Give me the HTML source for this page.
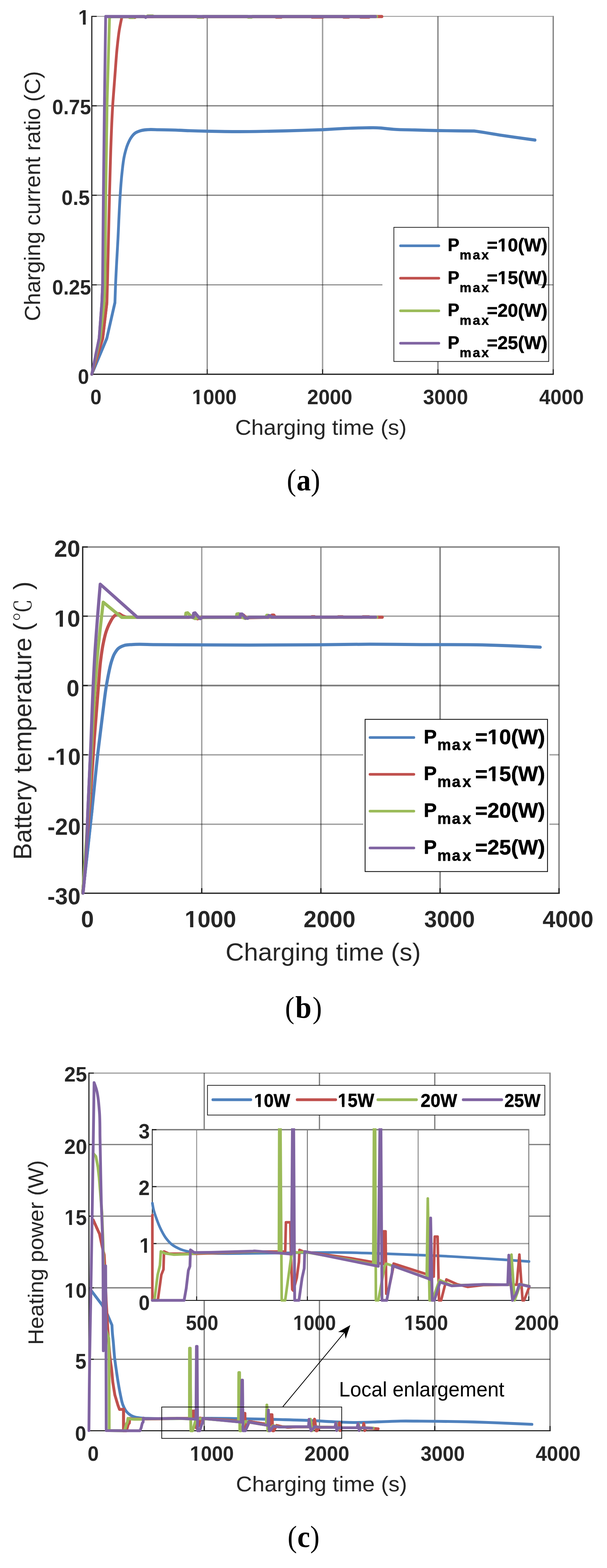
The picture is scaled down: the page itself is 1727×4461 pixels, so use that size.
<!DOCTYPE html>
<html lang="en">
<head>
<meta charset="utf-8">
<title>Charging current ratio, battery temperature and heating power versus charging time</title>
<style>
html,body{margin:0;padding:0;background:#fff}
svg{display:block}
text{white-space:pre}
</style>
</head>
<body>
<svg width="1727" height="4461" viewBox="0 0 1727 4461">
<rect width="1727" height="4461" fill="#fff"/>
<defs><clipPath id="k1"><path clip-rule="evenodd" d="M-60-130H2000V70H-60ZM4-14H23.3V3H4ZM37.1-14H55V3H37.1Z"/></clipPath><clipPath id="k2"><path clip-rule="evenodd" d="M-60-130H2000V70H-60ZM37.3-14H56.6V3H37.3ZM70.4-14H88.3V3H70.4Z"/></clipPath><clipPath id="k3"><path clip-rule="evenodd" d="M-400-130H2000V70H-400ZM62.4-14H81.7V3H62.4ZM95.5-14H113.4V3H95.5Z"/></clipPath></defs>
<g id="chart-a">
<line x1="589.5" y1="46.6" x2="589.5" y2="1064.5" stroke="#000" stroke-width="3.1" stroke-opacity="0.5"/>
<line x1="917.8" y1="46.6" x2="917.8" y2="1064.5" stroke="#000" stroke-width="4" stroke-opacity="0.38"/>
<line x1="1246" y1="46.6" x2="1246" y2="1064.5" stroke="#000" stroke-width="3.6" stroke-opacity="0.5"/>
<line x1="1574" y1="45.3" x2="1574" y2="1064.5" stroke="#000" stroke-width="3.6" stroke-opacity="0.5"/>
<line x1="261.2" y1="301" x2="1574" y2="301" stroke="#000" stroke-width="3.6" stroke-opacity="0.5"/>
<line x1="261.2" y1="555.5" x2="1574" y2="555.5" stroke="#000" stroke-width="3.4" stroke-opacity="0.5"/>
<line x1="261.2" y1="810.4" x2="1088" y2="810.4" stroke="#000" stroke-width="2.8" stroke-opacity="0.5"/>
<line x1="261.2" y1="46.6" x2="1572" y2="46.6" stroke="#000" stroke-width="2.7" stroke-opacity="0.36"/>
<g transform="scale(1 1.12)">
<path d="M261.2 950.4L303.8 859.6L327 768.7C327 768.7 328.1 738.4 328.8 723.2C330.5 684.5 333.3 645.8 335.6 607.1C337.8 568.5 339.2 529.7 342.3 491.1C343.6 474.6 344.8 458 346.8 441.6C348.8 425.4 350.2 409 354.4 393.3C356.8 384.2 359.4 375 363.4 366.4C366 360.8 368.7 355.2 372.4 350.3C375.8 345.8 379.7 341.3 384.4 338.2C388.9 335.2 394.3 333.5 399.5 332.1C406.3 330.1 413.5 329.8 420.6 329.3C430.6 328.6 440.7 329.4 450.7 329.6C467.1 329.8 483.6 330 500 330.5C513.3 330.9 526.7 331.6 540 332.1C556.3 332.6 572.7 333 589 333.3C619.5 333.9 650 334.4 680.5 334.4C710.6 334.4 740.7 333.9 770.8 333.3C800.9 332.8 830.9 331.9 861 331.1C880 330.6 899 330.2 918 329.5C939.1 328.6 960.3 327.1 981.4 326.2C1001.5 325.5 1021.5 324.8 1041.6 324.6C1051.7 324.6 1061.9 324.3 1072 324.6C1076 324.8 1084 325.2 1084 325.2C1084 325.2 1108 327.6 1120 328.4C1140.1 329.7 1160.3 329.6 1180.5 330.1C1202.2 330.7 1223.8 331.3 1245.5 331.7C1263.7 332 1281.8 332.2 1300 332.4C1316.3 332.6 1349 332.8 1349 332.8C1349 332.8 1357 333.7 1361 334.2C1381.1 336.7 1401 340.1 1421 342.9C1454.8 347.5 1522.4 355.8 1522.4 355.8" fill="none" stroke="#4f81bd" stroke-width="7.9" stroke-linejoin="round" stroke-linecap="round" />
<path d="M261.2 950.4L292.3 859.6L304.2 768.7C304.2 768.7 305.1 738.4 305.6 723.2C307.9 645.8 309 568.4 311.6 491.1C314.2 413.7 315.5 336.2 321.3 258.9C323.1 235.3 325.2 211.7 327.3 188C329.3 165.6 330.7 143.1 333.3 120.8C335.1 105.6 336.8 90.3 339.6 75.2C341.7 64.2 346.9 42.4 346.9 42.4L366 42.7L369 44.2L384 44.2L387 42.4L560 42.4L563 43.7L578 43.7L581 42.4L783 42.4L786 43.7L800 43.7L803 42.4L885 42.4L888 43.7L918 43.7L921 42.4L975 42.4L978 43.7L992 43.7L995 42.4L1023 42.4L1026 43.6L1050 43.6L1053 42L1086.8 42" fill="none" stroke="#c0504d" stroke-width="7.9" stroke-linejoin="round" stroke-linecap="round" />
<path d="M261.2 950.4L285 859.6L296.3 768.7L298.7 723.2L301 491.1L304.7 258.9L311.6 45.5L315 42.4L366 42.4L369 44.5L380 44.5L383 42.4L418 42L420 40.6L435 40.6L437 42L560 42L562 43.7L575 43.7L577 42L704 42L706 43.7L716 43.7L718 42L1072 42" fill="none" stroke="#9bbb59" stroke-width="7.9" stroke-linejoin="round" stroke-linecap="round" />
<path d="M261.2 950.4L282 859.6L289.7 768.7L291.8 723.2L294.2 491.1L297.2 258.9L300.6 42L411 42L414.5 44.2L418 42L1068.7 42" fill="none" stroke="#8064a2" stroke-width="7.9" stroke-linejoin="round" stroke-linecap="round" />
</g>
<line x1="261.2" y1="45.3" x2="261.2" y2="1066.1" stroke="#1f1f1f" stroke-width="3.2" />
<line x1="261.2" y1="1064.8" x2="1575.8" y2="1064.8" stroke="#1f1f1f" stroke-width="3.6" />
<line x1="261.2" y1="46.6" x2="275.2" y2="46.6" stroke="#1f1f1f" stroke-width="3" />
<line x1="261.2" y1="301" x2="275.2" y2="301" stroke="#1f1f1f" stroke-width="3" />
<line x1="261.2" y1="555.5" x2="275.2" y2="555.5" stroke="#1f1f1f" stroke-width="3" />
<line x1="261.2" y1="810.4" x2="275.2" y2="810.4" stroke="#1f1f1f" stroke-width="3" />
<line x1="589.5" y1="1064.5" x2="589.5" y2="1050.5" stroke="#1f1f1f" stroke-width="2.8" />
<line x1="917.8" y1="1064.5" x2="917.8" y2="1050.5" stroke="#1f1f1f" stroke-width="2.8" />
<line x1="1246" y1="1064.5" x2="1246" y2="1050.5" stroke="#1f1f1f" stroke-width="2.8" />
<line x1="1574" y1="1064.5" x2="1574" y2="1050.5" stroke="#1f1f1f" stroke-width="2.8" />
<g transform="scale(1 1.12)">
<path d="M261.2 950.4L303.8 859.6L327 768.7" fill="none" stroke="#4f81bd" stroke-width="7.9" stroke-linejoin="round" stroke-linecap="round" />
<path d="M261.2 950.4L292.3 859.6L304.2 768.7" fill="none" stroke="#c0504d" stroke-width="7.9" stroke-linejoin="round" stroke-linecap="round" />
<path d="M261.2 950.4L285 859.6L296.3 768.7" fill="none" stroke="#9bbb59" stroke-width="7.9" stroke-linejoin="round" stroke-linecap="round" />
<path d="M261.2 950.4L282 859.6L289.7 768.7L291.8 723.2" fill="none" stroke="#8064a2" stroke-width="7.9" stroke-linejoin="round" stroke-linecap="round" />
</g>
<rect x="1120.6" y="646.8" width="440.6" height="381.6" fill="#fff" stroke="#111" stroke-width="2" />
<line x1="1139.5" y1="699.2" x2="1248.5" y2="699.2" stroke="#4f81bd" stroke-width="7.5" stroke-linecap="round"/>
<text transform="matrix(0.5213 0 0 0.5230 1385.26 715.47)" font-family="'Liberation Sans', sans-serif" font-weight="bold" font-size="100" fill="#000" clip-path="url(#k3)" stroke="#000" stroke-width="1.72" stroke-linejoin="round"><tspan x="-214.0" y="-2.4" font-size="95.5">P</tspan><tspan x="-148.9 -77.1 -29.8" y="44.0" font-size="72.3">max</tspan><tspan x="0" y="0">=10(W)</tspan></text>
<line x1="1139.5" y1="791.5" x2="1248.5" y2="791.5" stroke="#c0504d" stroke-width="7.5" stroke-linecap="round"/>
<text transform="matrix(0.5213 0 0 0.5230 1385.26 807.77)" font-family="'Liberation Sans', sans-serif" font-weight="bold" font-size="100" fill="#000" clip-path="url(#k3)" stroke="#000" stroke-width="1.72" stroke-linejoin="round"><tspan x="-214.0" y="-2.4" font-size="95.5">P</tspan><tspan x="-148.9 -77.1 -29.8" y="44.0" font-size="72.3">max</tspan><tspan x="0" y="0">=15(W)</tspan></text>
<line x1="1139.5" y1="884.3" x2="1248.5" y2="884.3" stroke="#9bbb59" stroke-width="7.5" stroke-linecap="round"/>
<text transform="matrix(0.5213 0 0 0.5230 1385.26 900.57)" font-family="'Liberation Sans', sans-serif" font-weight="bold" font-size="100" fill="#000" stroke="#000" stroke-width="1.72" stroke-linejoin="round"><tspan x="-214.0" y="-2.4" font-size="95.5">P</tspan><tspan x="-148.9 -77.1 -29.8" y="44.0" font-size="72.3">max</tspan><tspan x="0" y="0">=20(W)</tspan></text>
<line x1="1139.5" y1="976.6" x2="1248.5" y2="976.6" stroke="#8064a2" stroke-width="7.5" stroke-linecap="round"/>
<text transform="matrix(0.5213 0 0 0.5230 1385.26 992.87)" font-family="'Liberation Sans', sans-serif" font-weight="bold" font-size="100" fill="#000" stroke="#000" stroke-width="1.72" stroke-linejoin="round"><tspan x="-214.0" y="-2.4" font-size="95.5">P</tspan><tspan x="-148.9 -77.1 -29.8" y="44.0" font-size="72.3">max</tspan><tspan x="0" y="0">=25(W)</tspan></text>
<line x1="1530" y1="810.4" x2="1574" y2="810.4" stroke="#000" stroke-width="2.8" stroke-opacity="0.5"/>
<text transform="matrix(0.5720 0 0 0.5971 222.62 69.90)" font-family="'Liberation Sans', sans-serif" font-weight="bold" font-size="100" fill="#262626" clip-path="url(#k1)">1</text>
<text transform="matrix(0.5686 0 0 0.5887 148.53 325.41)" font-family="'Liberation Sans', sans-serif" font-weight="bold" font-size="100" fill="#262626">0.75</text>
<text transform="matrix(0.5788 0 0 0.5873 175.08 583.21)" font-family="'Liberation Sans', sans-serif" font-weight="bold" font-size="100" fill="#262626">0.5</text>
<text transform="matrix(0.5686 0 0 0.5986 148.53 838.10)" font-family="'Liberation Sans', sans-serif" font-weight="bold" font-size="100" fill="#262626">0.25</text>
<text transform="matrix(0.5720 0 0 0.5873 221.38 1092.31)" font-family="'Liberation Sans', sans-serif" font-weight="bold" font-size="100" fill="#262626">0</text>
<text transform="matrix(0.5720 0 0 0.5930 256.93 1150.41)" font-family="'Liberation Sans', sans-serif" font-weight="bold" font-size="100" fill="#262626">0</text>
<text transform="matrix(0.5708 0 0 0.5930 546.19 1150.41)" font-family="'Liberation Sans', sans-serif" font-weight="bold" font-size="100" fill="#262626" clip-path="url(#k1)">1000</text>
<text transform="matrix(0.5767 0 0 0.5930 874.08 1150.41)" font-family="'Liberation Sans', sans-serif" font-weight="bold" font-size="100" fill="#262626">2000</text>
<text transform="matrix(0.5745 0 0 0.5930 1203.86 1150.41)" font-family="'Liberation Sans', sans-serif" font-weight="bold" font-size="100" fill="#262626">3000</text>
<text transform="matrix(0.5700 0 0 0.5915 1534.24 1150.01)" font-family="'Liberation Sans', sans-serif" font-weight="bold" font-size="100" fill="#262626">4000</text>
<text transform="matrix(0.6364 0 0 0.6182 668.92 1237.32)" font-family="'Liberation Sans', sans-serif" font-weight="normal" font-size="100" fill="#262626">Charging time (s)</text>
<text transform="matrix(0 -0.6275 0.6278 0 114.22 913.54)" font-family="'Liberation Sans', sans-serif" font-weight="normal" font-size="100" fill="#262626">Charging current ratio (C)</text>
<text transform="matrix(0.8000 0 0 0.8678 816.10 1394.58)" font-family="'Liberation Serif', serif" font-weight="normal" font-size="100" fill="#000"><tspan x="0" y="0">(</tspan><tspan x="34.6" y="0.3" font-size="101.2" font-weight="bold">a</tspan><tspan x="85.2" y="0.0" font-size="100.0">)</tspan></text>
</g>
<g id="chart-b">
<line x1="574" y1="1557.7" x2="574" y2="2541.3" stroke="#000" stroke-width="4" stroke-opacity="0.36"/>
<line x1="913" y1="1557.7" x2="913" y2="2541.3" stroke="#000" stroke-width="4.1" stroke-opacity="0.42"/>
<line x1="1252.1" y1="1557.7" x2="1252.1" y2="2541.3" stroke="#000" stroke-width="4.1" stroke-opacity="0.5"/>
<line x1="1590.5" y1="1554.2" x2="1590.5" y2="2541.3" stroke="#000" stroke-width="4" stroke-opacity="0.5"/>
<line x1="235.3" y1="1556.2" x2="1588.5" y2="1556.2" stroke="#000" stroke-width="4" stroke-opacity="0.5"/>
<line x1="235.3" y1="1753" x2="1590.5" y2="1753" stroke="#000" stroke-width="4" stroke-opacity="0.36"/>
<line x1="235.3" y1="1950.4" x2="1590.5" y2="1950.4" stroke="#000" stroke-width="4.6" stroke-opacity="0.5"/>
<line x1="235.3" y1="2147.4" x2="1033.5" y2="2147.4" stroke="#000" stroke-width="4" stroke-opacity="0.36"/>
<line x1="1563.2" y1="2147.4" x2="1590.5" y2="2147.4" stroke="#000" stroke-width="4" stroke-opacity="0.36"/>
<line x1="235.3" y1="2344.9" x2="1033.5" y2="2344.9" stroke="#000" stroke-width="4" stroke-opacity="0.36"/>
<line x1="1563.2" y1="2344.9" x2="1590.5" y2="2344.9" stroke="#000" stroke-width="4" stroke-opacity="0.36"/>
<path d="M235.6 2540.7C235.6 2540.7 253.6 2380.3 262.1 2300C267.8 2246.7 272.6 2193.3 278.7 2140C282.9 2103.5 287.5 2067 292.2 2030.5C295.6 2003.7 298.3 1976.8 302.8 1950.1C305.1 1936.7 307.4 1923.3 310.3 1910.1C312.5 1900 314.5 1889.8 317.8 1880C320 1873.4 322 1866.7 325.3 1860.7C328.6 1854.7 332.1 1848.5 337.4 1844.2C341.8 1840.7 347.1 1838.5 352.4 1836.7C360.1 1834.1 368.4 1834.4 376.5 1833.7C397.6 1831.8 418.8 1833.8 440 1833.9C466.7 1834.1 493.3 1834.4 520 1834.6C646.7 1835.5 773.3 1835.4 900 1834.4C950.9 1834 1001.7 1832.9 1052.6 1832.8C1101.7 1832.8 1150.9 1833.7 1200 1834C1257.5 1834.4 1315 1833.5 1372.5 1834.8C1398.3 1835.4 1424.2 1836.2 1450 1837.2C1479 1838.3 1537 1841.2 1537 1841.2" fill="none" stroke="#4f81bd" stroke-width="9" stroke-linejoin="round" stroke-linecap="round" />
<path d="M235.6 2540.7C235.6 2540.7 250.9 2353.6 257.6 2260C261.4 2206.7 264.6 2153.3 268.5 2100C272.2 2050 276 2000 280.2 1950C282.1 1926.7 283.3 1903.2 286.2 1880C288.3 1863.5 290.3 1847 293.7 1830.7C296.2 1818.5 298.6 1806.2 302.8 1794.5C305.7 1786.3 309.1 1778.1 313.3 1770.5C316.8 1764.2 319.7 1756.9 325.3 1752.4C328.9 1749.5 332.8 1746 337.4 1746C341.9 1746 345.2 1750.6 349.4 1752.4C352.8 1753.9 360 1756.2 360 1756.2L538 1756.2L541 1751L548 1756.5L562 1760.5L572 1756.2L690 1756.2L693 1750L700 1757.5L772 1756L774 1750L779 1750L783 1756L885 1756L887 1754.6L895 1754.6L897 1756L960 1756L962 1754.8L975 1754.8L977 1756L1030 1756L1032 1754.8L1050 1754.8L1052 1756L1087.5 1756" fill="none" stroke="#c0504d" stroke-width="9" stroke-linejoin="round" stroke-linecap="round" />
<path d="M235.6 2540.7C235.6 2540.7 249.6 2353.6 254.6 2260C257.4 2206.7 259 2153.3 261.8 2100C263.7 2063.3 265.8 2026.7 268.2 1990C270.6 1953.3 272.9 1916.6 276 1880C280.7 1824.3 293.7 1713.3 293.7 1713.3L346.4 1756.5L527.5 1756.2L529 1744.5L534 1743.5L546 1756L555 1760L566 1757L672.5 1756.2L674 1747L679 1746L689 1756L698 1759.5L708 1756.2L757 1756.2L759 1750.5L763 1750.5L768 1756.2L1072 1756" fill="none" stroke="#9bbb59" stroke-width="9" stroke-linejoin="round" stroke-linecap="round" />
<path d="M236.2 2540.7C236.2 2540.7 241.4 2488.3 243.4 2462C247.5 2408.1 248 2354 250.4 2300C252.8 2246.7 255.3 2193.3 257.6 2140C260.3 2076.7 262 2013.3 265.1 1950C266.2 1926.7 267.4 1903.3 268.7 1880C272.9 1807.2 285.2 1662 285.2 1662L391 1756.3L549.5 1756L551 1744.5L555 1743.5L566.5 1757.5L570 1760L576 1756L683 1756L684.5 1747L689 1747L698 1758L705 1759L709 1756L763 1756L765 1751.5L769 1752L773 1756L1068.6 1755.8" fill="none" stroke="#8064a2" stroke-width="9" stroke-linejoin="round" stroke-linecap="round" />
<line x1="235.3" y1="1554.2" x2="235.3" y2="2543.1" stroke="#1f1f1f" stroke-width="3.6" />
<line x1="235.3" y1="2541.3" x2="1592.5" y2="2541.3" stroke="#1f1f1f" stroke-width="3.4" />
<line x1="235.3" y1="1556.2" x2="249.8" y2="1556.2" stroke="#1f1f1f" stroke-width="3.4" />
<line x1="235.3" y1="1753" x2="249.8" y2="1753" stroke="#1f1f1f" stroke-width="3.4" />
<line x1="235.3" y1="1950.4" x2="249.8" y2="1950.4" stroke="#1f1f1f" stroke-width="3.4" />
<line x1="235.3" y1="2147.4" x2="249.8" y2="2147.4" stroke="#1f1f1f" stroke-width="3.4" />
<line x1="235.3" y1="2344.9" x2="249.8" y2="2344.9" stroke="#1f1f1f" stroke-width="3.4" />
<line x1="574" y1="2541.3" x2="574" y2="2526.8" stroke="#1f1f1f" stroke-width="3.6" />
<line x1="913" y1="2541.3" x2="913" y2="2526.8" stroke="#1f1f1f" stroke-width="3.6" />
<line x1="1252.1" y1="2541.3" x2="1252.1" y2="2526.8" stroke="#1f1f1f" stroke-width="3.6" />
<line x1="1590.5" y1="2541.3" x2="1590.5" y2="2526.8" stroke="#1f1f1f" stroke-width="3.6" />
<polyline points="235.6,2540.7 262.1,2300" fill="none" stroke="#4f81bd" stroke-width="9" stroke-linejoin="round" stroke-linecap="round" />
<polyline points="235.6,2540.7 257.6,2260" fill="none" stroke="#c0504d" stroke-width="9" stroke-linejoin="round" stroke-linecap="round" />
<polyline points="235.6,2540.7 254.6,2260" fill="none" stroke="#9bbb59" stroke-width="9" stroke-linejoin="round" stroke-linecap="round" />
<path d="M236.2 2540.7C236.2 2540.7 241.4 2488.3 243.4 2462C247.5 2408.1 248 2354 250.4 2300C252.8 2246.7 257.6 2140 257.6 2140" fill="none" stroke="#8064a2" stroke-width="9" stroke-linejoin="round" stroke-linecap="round" />
<rect x="1038.8" y="2046.6" width="519" height="433" fill="#fff" stroke="#111" stroke-width="2.4" />
<line x1="1052.7" y1="2098.2" x2="1177.5" y2="2098.2" stroke="#4f81bd" stroke-width="7.5" stroke-linecap="round"/>
<text transform="matrix(0.6019 0 0 0.6011 1351.94 2116.93)" font-family="'Liberation Sans', sans-serif" font-weight="bold" font-size="100" fill="#000" clip-path="url(#k3)" stroke="#000" stroke-width="1.50" stroke-linejoin="round"><tspan x="-243.4" y="-3.8" font-size="92.3">P</tspan><tspan x="-179.1 -109.9 -59.8" y="28.9" font-size="72.9">max</tspan><tspan x="0" y="0">=10(W)</tspan></text>
<line x1="1052.7" y1="2203" x2="1177.5" y2="2203" stroke="#c0504d" stroke-width="7.5" stroke-linecap="round"/>
<text transform="matrix(0.6019 0 0 0.6011 1351.94 2221.73)" font-family="'Liberation Sans', sans-serif" font-weight="bold" font-size="100" fill="#000" clip-path="url(#k3)" stroke="#000" stroke-width="1.50" stroke-linejoin="round"><tspan x="-243.4" y="-3.8" font-size="92.3">P</tspan><tspan x="-179.1 -109.9 -59.8" y="28.9" font-size="72.9">max</tspan><tspan x="0" y="0">=15(W)</tspan></text>
<line x1="1052.7" y1="2307.7" x2="1177.5" y2="2307.7" stroke="#9bbb59" stroke-width="7.5" stroke-linecap="round"/>
<text transform="matrix(0.6019 0 0 0.6011 1351.94 2326.43)" font-family="'Liberation Sans', sans-serif" font-weight="bold" font-size="100" fill="#000" stroke="#000" stroke-width="1.50" stroke-linejoin="round"><tspan x="-243.4" y="-3.8" font-size="92.3">P</tspan><tspan x="-179.1 -109.9 -59.8" y="28.9" font-size="72.9">max</tspan><tspan x="0" y="0">=20(W)</tspan></text>
<line x1="1052.7" y1="2412.4" x2="1177.5" y2="2412.4" stroke="#8064a2" stroke-width="7.5" stroke-linecap="round"/>
<text transform="matrix(0.6019 0 0 0.6011 1351.94 2431.13)" font-family="'Liberation Sans', sans-serif" font-weight="bold" font-size="100" fill="#000" stroke="#000" stroke-width="1.50" stroke-linejoin="round"><tspan x="-243.4" y="-3.8" font-size="92.3">P</tspan><tspan x="-179.1 -109.9 -59.8" y="28.9" font-size="72.9">max</tspan><tspan x="0" y="0">=25(W)</tspan></text>
<text transform="matrix(0.6676 0 0 0.6676 154.16 1584.03)" font-family="'Liberation Sans', sans-serif" font-weight="bold" font-size="100" fill="#262626">20</text>
<text transform="matrix(0.6677 0 0 0.6718 154.16 1783.03)" font-family="'Liberation Sans', sans-serif" font-weight="bold" font-size="100" fill="#262626" clip-path="url(#k1)">10</text>
<text transform="matrix(0.6570 0 0 0.6718 189.37 1981.03)" font-family="'Liberation Sans', sans-serif" font-weight="bold" font-size="100" fill="#262626">0</text>
<text transform="matrix(0.6535 0 0 0.6718 135.09 2176.03)" font-family="'Liberation Sans', sans-serif" font-weight="bold" font-size="100" fill="#262626" clip-path="url(#k2)">-10</text>
<text transform="matrix(0.6535 0 0 0.6676 135.09 2375.43)" font-family="'Liberation Sans', sans-serif" font-weight="bold" font-size="100" fill="#262626">-20</text>
<text transform="matrix(0.6505 0 0 0.6732 135.10 2573.13)" font-family="'Liberation Sans', sans-serif" font-weight="bold" font-size="100" fill="#262626">-30</text>
<text transform="matrix(0.6570 0 0 0.6732 230.52 2638.13)" font-family="'Liberation Sans', sans-serif" font-weight="bold" font-size="100" fill="#262626">0</text>
<text transform="matrix(0.6585 0 0 0.6732 525.52 2638.13)" font-family="'Liberation Sans', sans-serif" font-weight="bold" font-size="100" fill="#262626" clip-path="url(#k1)">1000</text>
<text transform="matrix(0.6633 0 0 0.6732 863.78 2638.13)" font-family="'Liberation Sans', sans-serif" font-weight="bold" font-size="100" fill="#262626">2000</text>
<text transform="matrix(0.6486 0 0 0.6732 1206.88 2638.13)" font-family="'Liberation Sans', sans-serif" font-weight="bold" font-size="100" fill="#262626">3000</text>
<text transform="matrix(0.6498 0 0 0.6732 1543.83 2637.53)" font-family="'Liberation Sans', sans-serif" font-weight="bold" font-size="100" fill="#262626">4000</text>
<text transform="matrix(0.7243 0 0 0.7091 641.68 2732.91)" font-family="'Liberation Sans', sans-serif" font-weight="normal" font-size="100" fill="#262626">Charging time (s)</text>
<text transform="matrix(0 -0.7154 0.7244 0 89.09 2446.02)" font-family="'Liberation Sans', sans-serif" font-weight="normal" font-size="100" fill="#262626"><tspan x="0" y="0">Battery temperature </tspan><tspan x="909.6" y="1.2" font-size="99.4">(</tspan><tspan x="947.2" y="-0.5" font-size="90.4" font-family="'Liberation Sans','Noto Serif CJK SC',serif">℃ </tspan><tspan x="1073.4" y="1.2" font-size="99.4">)</tspan></text>
<text transform="matrix(0.8000 0 0 0.8667 811.10 2895.50)" font-family="'Liberation Serif', serif" font-weight="normal" font-size="100" fill="#000"><tspan x="0" y="0">(</tspan><tspan x="36.4" y="0.2" font-size="103.4" font-weight="bold">b</tspan><tspan x="97.7" y="-0.0" font-size="100.0">)</tspan></text>
</g>
<g id="chart-c">
<line x1="581" y1="3053" x2="581" y2="3212" stroke="#000" stroke-width="3.6" stroke-opacity="0.5"/>
<line x1="581" y1="3701.2" x2="581" y2="4070.5" stroke="#000" stroke-width="3.6" stroke-opacity="0.5"/>
<line x1="908.9" y1="3053" x2="908.9" y2="3212" stroke="#000" stroke-width="3.6" stroke-opacity="0.5"/>
<line x1="908.9" y1="3701.2" x2="908.9" y2="4070.5" stroke="#000" stroke-width="3.6" stroke-opacity="0.5"/>
<line x1="1237" y1="3053" x2="1237" y2="3212" stroke="#000" stroke-width="3.6" stroke-opacity="0.5"/>
<line x1="1237" y1="3701.2" x2="1237" y2="4070.5" stroke="#000" stroke-width="3.6" stroke-opacity="0.5"/>
<line x1="1564.9" y1="3051.5" x2="1564.9" y2="4070.5" stroke="#000" stroke-width="3.6" stroke-opacity="0.5"/>
<line x1="253" y1="3053" x2="1562.9" y2="3053" stroke="#000" stroke-width="3" stroke-opacity="0.42"/>
<line x1="253" y1="3256.2" x2="432.2" y2="3256.2" stroke="#000" stroke-width="3.6" stroke-opacity="0.5"/>
<line x1="1505.8" y1="3256.2" x2="1564.9" y2="3256.2" stroke="#000" stroke-width="3.6" stroke-opacity="0.5"/>
<line x1="253" y1="3460" x2="432.2" y2="3460" stroke="#000" stroke-width="3.6" stroke-opacity="0.5"/>
<line x1="1505.8" y1="3460" x2="1564.9" y2="3460" stroke="#000" stroke-width="3.6" stroke-opacity="0.5"/>
<line x1="253" y1="3663.9" x2="432.2" y2="3663.9" stroke="#000" stroke-width="3.6" stroke-opacity="0.5"/>
<line x1="1505.8" y1="3663.9" x2="1564.9" y2="3663.9" stroke="#000" stroke-width="3.6" stroke-opacity="0.5"/>
<line x1="253" y1="3867.2" x2="1564.9" y2="3867.2" stroke="#000" stroke-width="3.4" stroke-opacity="0.5"/>
<clipPath id="clipc"><rect x="248" y="3040" width="1330" height="1035.5"/></clipPath>
<g clip-path="url(#clipc)">
<path d="M256 3667L290 3712L306 3740.5L318.5 3770C318.5 3770 319.1 3783.3 319.6 3790C320.3 3800 321.6 3810 322.5 3820C323.7 3833.3 324.4 3846.7 325.8 3860C327.1 3872.1 328.9 3884.1 330.6 3896.1C332.3 3908.1 334 3920.2 336 3932.2C338 3944.3 340 3956.4 342.6 3968.3C344.8 3978.4 346.2 3988.9 350.2 3998.4C352.4 4003.6 354.7 4008.9 358 4013.5C360.4 4016.8 363.2 4020 366.4 4022.6C370.6 4026 375.5 4028.7 380.5 4030.6C386.8 4033 393.8 4033.4 400.5 4034.2C410.3 4035.4 420.2 4035.1 430 4035.5C486.6 4037.6 543.3 4034.5 600 4035C633.3 4035.3 666.7 4035.9 700 4036.5C730 4037.1 760 4037.7 790 4038.5C822 4039.4 854 4040.1 886 4041.5C907.3 4042.5 928.7 4044.1 950 4045C971.7 4045.9 993.3 4047 1015 4047C1036.7 4047 1058.3 4045.8 1080 4045.1C1100 4044.5 1120 4043.3 1140 4043C1160 4042.7 1180 4043.1 1200 4043.3C1233.3 4043.6 1266.7 4043.9 1300 4044.5C1316.7 4044.8 1333.3 4045.1 1350 4045.6C1373.7 4046.3 1397.3 4047.3 1421 4048.3C1451.8 4049.5 1513.3 4052.3 1513.3 4052.3" fill="none" stroke="#4f81bd" stroke-width="8.1" stroke-linejoin="round" stroke-linecap="round" />
<polyline points="262.5,3469 265.1,3470.5 283.2,3510.6 291,3548 296.5,3570 298,3598 302,3700 308,3802 312.7,3860 317.5,3896 320.9,3932.2 326.7,3968.3 335.7,3998.4 340,4009.9 351.5,4009.5 351.5,4070.4 359.6,4070.4 364.9,4052.1 368,4048.3 368.8,4035.5 375.7,4037 417.4,4037.1 500.6,4035.6 548.2,4035.5 549.3,4014.7 555.8,4014.7 556.6,4035.4 558.7,4062.7 560.2,4063.5 565.4,4054.4 568.5,4043 569.3,4034.4 574.8,4035.5 646.3,4040.4 693.2,4044.4 693.9,4021.1 696.8,4021.1 697.8,4065.7 699.9,4065.5 704.6,4055.5 707.7,4048 708.8,4044.2 754.9,4051.4 768.1,4053.5 769.7,4024.9 773.8,4024.9 775.9,4070.4 779,4070.4 786.9,4055.5 802.6,4058.9 818.2,4060.8 841.5,4059.5 890.9,4059.3 894.9,4037.7 899.7,4070.4 902,4070.4 909.8,4060.4 964,4061 965.9,4048 968,4070 972,4062 1033,4062 1035,4050 1038,4070 1042,4063 1075.7,4065" fill="none" stroke="#c0504d" stroke-width="8.2" stroke-linejoin="round" stroke-linecap="round" />
<polyline points="265,3281 272.8,3290 278.6,3320 282,3350 286,3400 290,3450 293.5,3540 294.5,3600 298,3700 300.5,3780 309.6,3808 310.5,3900 310.8,4070 351.5,4070.4 354.7,4069.8 359.4,4052.1 362.7,4045.4 364.1,4035.5 370.5,4036.9 383.5,4037.8 407.2,4037.4 417.4,4036.6 500.6,4035.5 538.9,4036.4 539.4,3835.7 541.2,3835.7 543,4070.4 548.1,4070.4 556,4043 558.3,4035.5 565.4,4036.2 577.1,4035.9 646.3,4041.7 678.6,4044.9 679.6,3904.9 681.4,3904.9 682.5,4070.4 686,4070.4 695.4,4046.1 697.8,4044.2 757.7,4054.2 759.3,3997.6 762,4070.4 765.9,4070.4 776.7,4055.9 794.7,4059.8 841.5,4059.1 880.5,4059.3 883.2,4037.7 887.9,4070.4 896.5,4058.9 909.7,4060.3 954,4061 956.5,4048.5 960,4069 965,4062 1017,4062 1020,4050.5 1024,4069 1029,4062 1062,4063" fill="none" stroke="#9bbb59" stroke-width="8" stroke-linejoin="round" stroke-linecap="round" />
</g>
<line x1="253" y1="3051.5" x2="253" y2="4072.1" stroke="#1f1f1f" stroke-width="3.2" />
<line x1="253" y1="4070.5" x2="1566.7" y2="4070.5" stroke="#1f1f1f" stroke-width="3.2" />
<line x1="253" y1="3053" x2="267" y2="3053" stroke="#1f1f1f" stroke-width="3" />
<line x1="253" y1="3256.2" x2="267" y2="3256.2" stroke="#1f1f1f" stroke-width="3" />
<line x1="253" y1="3460" x2="267" y2="3460" stroke="#1f1f1f" stroke-width="3" />
<line x1="253" y1="3663.9" x2="267" y2="3663.9" stroke="#1f1f1f" stroke-width="3" />
<line x1="253" y1="3867.2" x2="267" y2="3867.2" stroke="#1f1f1f" stroke-width="3" />
<line x1="581" y1="4070.5" x2="581" y2="4057" stroke="#1f1f1f" stroke-width="3.2" />
<line x1="908.9" y1="4070.5" x2="908.9" y2="4057" stroke="#1f1f1f" stroke-width="3.2" />
<line x1="1237" y1="4070.5" x2="1237" y2="4057" stroke="#1f1f1f" stroke-width="3.2" />
<line x1="1564.9" y1="4070.5" x2="1564.9" y2="4057" stroke="#1f1f1f" stroke-width="3.2" />
<g clip-path="url(#clipc)">
<polyline points="351.5,4009.5 351.5,4070.4 359.6,4070.4 364.9,4052.1 368,4048.3 368.8,4035.5 375.7,4037 417.4,4037.1 500.6,4035.6 548.2,4035.5 549.3,4014.7 555.8,4014.7 556.6,4035.4 558.7,4062.7 560.2,4063.5 565.4,4054.4 568.5,4043 569.3,4034.4 574.8,4035.5 646.3,4040.4 693.2,4044.4 693.9,4021.1 696.8,4021.1 697.8,4065.7 699.9,4065.5 704.6,4055.5 707.7,4048 708.8,4044.2 754.9,4051.4 768.1,4053.5 769.7,4024.9 773.8,4024.9 775.9,4070.4 779,4070.4 786.9,4055.5 802.6,4058.9 818.2,4060.8 841.5,4059.5 890.9,4059.3 894.9,4037.7 899.7,4070.4 902,4070.4 909.8,4060.4 964,4061 965.9,4048 968,4070 972,4062 1033,4062 1035,4050 1038,4070 1042,4063 1075.7,4065" fill="none" stroke="#c0504d" stroke-width="8" stroke-linejoin="round" stroke-linecap="round" />
<polyline points="310.8,4070 351.5,4070.4 354.7,4069.8 359.4,4052.1 362.7,4045.4 364.1,4035.5 370.5,4036.9 383.5,4037.8 407.2,4037.4 417.4,4036.6 500.6,4035.5 538.9,4036.4 539.4,3835.7 541.2,3835.7 543,4070.4 548.1,4070.4 556,4043 558.3,4035.5 565.4,4036.2 577.1,4035.9 646.3,4041.7 678.6,4044.9 679.6,3904.9 681.4,3904.9 682.5,4070.4 686,4070.4 695.4,4046.1 697.8,4044.2 757.7,4054.2 759.3,3997.6 762,4070.4 765.9,4070.4 776.7,4055.9 794.7,4059.8 841.5,4059.1 880.5,4059.3 883.2,4037.7 887.9,4070.4 896.5,4058.9 909.7,4060.3 954,4061 956.5,4048.5 960,4069 965,4062 1017,4062 1020,4050.5 1024,4069 1029,4062 1062,4063" fill="none" stroke="#9bbb59" stroke-width="8" stroke-linejoin="round" stroke-linecap="round" />
<path d="M253 4070C253 4070 254 3936.7 255 3870C255.9 3810 257.2 3750 258.3 3690C259.8 3603.3 261.2 3516.7 262.6 3430C263.3 3386.7 264 3343.3 264.6 3300C265.7 3226.7 267.7 3080 267.7 3080C267.7 3080 272.6 3093.2 274.5 3100C280 3119.4 280.8 3139.9 282.6 3160C284.9 3186.6 284 3213.3 284.6 3240C285 3260 285.4 3280 285.8 3300C286.6 3340 287.1 3380 288.2 3420C289.3 3460 291.3 3500 292.2 3540C293.4 3593.3 293.2 3646.7 293.5 3700C293.8 3747.7 293.9 3843 293.9 3843L300.6 3601.5L301.2 3700L301.7 3900L302.2 4070L351.5 4070.4L398.5 4070.4L401.7 4062L404.8 4049.1L407.2 4046.1L408 4034.4L413.4 4036.2L438.2 4036.1L500.6 4035.3L502.7 4035.1L557.6 4037.4L558.9 3830.6L560.8 3830.6L562.2 4070.4L568.5 4070.4L573.2 4054.4L576.3 4047.6L577.1 4035.5L646.3 4042.3L686 4046.1L688.4 3926.6L690 3926.6L691.5 4070.4L698.6 4070.4L703.3 4058.2L706.4 4050.6L707.2 4045.7L761.2 4055.1L762.6 4055.5L763.6 4011.6L765.9 4070.4L769.1 4070.4L777.5 4057.4L794.7 4060.1L810.4 4059.7L841.7 4059.1L877.7 4059.3L879.3 4038.1L881.6 4055.5L884.8 4070.4L890.2 4065.7L894.9 4058.9L909.7 4060.5L953 4061L955.3 4048.3L958 4070L962 4062L1016 4062L1018.5 4050L1022 4070L1027 4062L1057.6 4063" fill="none" stroke="#8064a2" stroke-width="8" stroke-linejoin="round" stroke-linecap="round" />
</g>
<rect x="433.2" y="3214" width="1071.3" height="485.7" fill="#fff" stroke="none" stroke-width="0" />
<line x1="559.5" y1="3216" x2="559.5" y2="3699.7" stroke="#000" stroke-width="3" stroke-opacity="0.38"/>
<line x1="874.5" y1="3216" x2="874.5" y2="3699.7" stroke="#000" stroke-width="2.6" stroke-opacity="0.55"/>
<line x1="1189.7" y1="3216" x2="1189.7" y2="3699.7" stroke="#000" stroke-width="3" stroke-opacity="0.42"/>
<line x1="1504.5" y1="3212" x2="1504.5" y2="3699.7" stroke="#000" stroke-width="2.8" stroke-opacity="0.5"/>
<line x1="433.2" y1="3214" x2="1503" y2="3214" stroke="#000" stroke-width="4" stroke-opacity="0.5"/>
<line x1="433.2" y1="3376" x2="1504.5" y2="3376" stroke="#000" stroke-width="4" stroke-opacity="0.35"/>
<line x1="433.2" y1="3538" x2="1504.5" y2="3538" stroke="#000" stroke-width="4" stroke-opacity="0.35"/>
<line x1="433.2" y1="3212" x2="433.2" y2="3700.9" stroke="#111" stroke-width="2.2" />
<line x1="433.2" y1="3699.7" x2="1505.8" y2="3699.7" stroke="#111" stroke-width="2.6" />
<line x1="433.2" y1="3214" x2="445.2" y2="3214" stroke="#111" stroke-width="2.6" />
<line x1="433.2" y1="3376" x2="445.2" y2="3376" stroke="#111" stroke-width="2.6" />
<line x1="433.2" y1="3538" x2="445.2" y2="3538" stroke="#111" stroke-width="2.6" />
<line x1="559.5" y1="3699.7" x2="559.5" y2="3688.2" stroke="#111" stroke-width="2.6" />
<line x1="874.5" y1="3699.7" x2="874.5" y2="3688.2" stroke="#111" stroke-width="2.6" />
<line x1="1189.7" y1="3699.7" x2="1189.7" y2="3688.2" stroke="#111" stroke-width="2.6" />
<line x1="1504.5" y1="3699.7" x2="1504.5" y2="3688.2" stroke="#111" stroke-width="2.6" />
<clipPath id="clipi"><rect x="428.2" y="3210" width="1081.3" height="494.7"/></clipPath>
<g clip-path="url(#clipi)">
<path d="M433.6 3423.2C433.6 3423.2 435.3 3434.5 436.6 3440C438.5 3448.2 441.3 3456.2 444.1 3464.1C447.7 3474.3 451.4 3484.5 456.1 3494.2C460.5 3503.5 465.1 3512.9 471.2 3521.2C476.5 3528.3 482.2 3535.3 489.2 3540.8C495.6 3545.8 502.9 3549.5 510.3 3552.8C518 3556.2 526.1 3558.5 534.3 3560.4C542.2 3562.2 550.3 3563.1 558.4 3564C572.4 3565.5 586.5 3565.4 600.5 3565.8C640.3 3567.1 680.2 3566.1 720 3565.8C763.3 3565.5 806.7 3564.4 850 3564C893.3 3563.6 936.7 3562.8 980 3563.4C1020 3563.9 1060 3565.6 1100 3567C1146.7 3568.6 1193.4 3570.2 1240 3572.4C1286.7 3574.7 1333.3 3577.6 1380 3580.5C1421.7 3583.1 1505 3589 1505 3589" fill="none" stroke="#4f81bd" stroke-width="7.5" stroke-linejoin="round" stroke-linecap="round" />
<polyline points="433.5,3457 433.5,3699.5 449,3699.5 459.1,3626.6 465.1,3611.5 466.6,3560.4 480,3566.5 560,3567 720,3561 811.5,3560.5 813.5,3477.6 826,3477.6 827.5,3560 831.5,3668.7 834.5,3672 844.4,3635.6 850.5,3590.5 852,3555.9 862.5,3560.4 1000,3580 1090,3596 1091.3,3503.2 1097,3503.2 1098.9,3680.7 1103,3680 1112,3640 1118,3610 1120,3595 1208.7,3623.6 1234,3632 1237,3518.2 1245,3518.2 1249,3699.5 1255,3699.5 1270.1,3640.1 1300.2,3653.7 1330.3,3661.2 1375,3656 1470,3655 1477.7,3569.4 1486.8,3699.5 1491.3,3699.5 1506.3,3659.7" fill="none" stroke="#c0504d" stroke-width="7.5" stroke-linejoin="round" stroke-linecap="round" />
<polyline points="433.5,3699.5 439.6,3697 448.6,3626.6 455,3600 457.6,3560.4 470,3566 495,3569.5 540.4,3568 560,3565 720,3560.5 793.5,3564 794.5,3206 798,3206 801.5,3699.5 811.3,3699.5 826.4,3590.5 830.9,3560.4 844.4,3563.4 867,3562 1000,3585 1062,3598 1064,3206 1067.3,3206 1069.5,3699.5 1076.3,3699.5 1094.3,3602.5 1098.9,3595 1214,3635 1217.1,3409.7 1222.2,3699.5 1229.8,3699.5 1250.5,3641.6 1285,3657 1375,3654.5 1450,3655 1455.2,3569.4 1464.2,3699.5 1480.7,3653.7 1506,3659" fill="none" stroke="#9bbb59" stroke-width="7.5" stroke-linejoin="round" stroke-linecap="round" />
<polyline points="433.5,3699.5 523.8,3699.5 529.8,3665.7 535.9,3614.5 540.4,3602.5 541.9,3555.9 552.4,3563.4 600,3563 720,3559.5 724,3558.9 829.4,3567.9 832,3206 835.6,3206 838.4,3699.5 850.5,3699.5 859.5,3635.6 865.5,3608.5 867,3560.4 1000,3587.4 1076.3,3602.5 1080.8,3206 1083.8,3206 1086.8,3699.5 1100.4,3699.5 1109.4,3650.6 1115.4,3620.5 1116.9,3601 1220.7,3638.6 1223.5,3640 1225.3,3465.3 1229.8,3699.5 1235.8,3699.5 1252,3647.6 1285.1,3658.2 1315.2,3656.7 1375.4,3654.3 1444.6,3655.2 1447.6,3570.9 1452,3640 1458.2,3699.5 1468.7,3680.7 1477.7,3653.7 1506,3660" fill="none" stroke="#8064a2" stroke-width="8" stroke-linejoin="round" stroke-linecap="round" />
</g>
<rect x="590.3" y="3087.8" width="959.9" height="84.6" fill="#fff" stroke="#111" stroke-width="2" />
<line x1="605.7" y1="3128.8" x2="713.5" y2="3128.8" stroke="#4f81bd" stroke-width="8" stroke-linecap="round"/>
<text transform="matrix(0.4990 0 0 0.5239 723.06 3149.28)" font-family="'Liberation Sans', sans-serif" font-weight="bold" font-size="100" fill="#000" clip-path="url(#k1)" stroke="#000" stroke-width="1.56" stroke-linejoin="round">10W</text>
<line x1="845.6" y1="3128.8" x2="955" y2="3128.8" stroke="#c0504d" stroke-width="8" stroke-linecap="round"/>
<text transform="matrix(0.5020 0 0 0.5314 961.34 3149.27)" font-family="'Liberation Sans', sans-serif" font-weight="bold" font-size="100" fill="#000" clip-path="url(#k1)" stroke="#000" stroke-width="1.55" stroke-linejoin="round">15W</text>
<line x1="1075.2" y1="3128.8" x2="1184.8" y2="3128.8" stroke="#9bbb59" stroke-width="8" stroke-linecap="round"/>
<text transform="matrix(0.5050 0 0 0.5239 1196.83 3149.28)" font-family="'Liberation Sans', sans-serif" font-weight="bold" font-size="100" fill="#000" stroke="#000" stroke-width="1.56" stroke-linejoin="round">20W</text>
<line x1="1318" y1="3128.8" x2="1427.4" y2="3128.8" stroke="#8064a2" stroke-width="8" stroke-linecap="round"/>
<text transform="matrix(0.4980 0 0 0.5239 1435.26 3149.28)" font-family="'Liberation Sans', sans-serif" font-weight="bold" font-size="100" fill="#000" stroke="#000" stroke-width="1.57" stroke-linejoin="round">25W</text>
<rect x="460.2" y="4003" width="512" height="89.3" fill="none" stroke="#000" stroke-width="2" />
<line x1="804.8" y1="4002" x2="981.5" y2="3789" stroke="#000" stroke-width="2.2" />
<polygon points="996.7,3770 962.1,3789.6 980.3,3791 983.3,3809" fill="#000"/>
<text transform="matrix(0.5719 0 0 0.5979 964.43 3972.74)" font-family="'Liberation Sans', sans-serif" font-weight="normal" font-size="100" fill="#000">Local enlargement</text>
<text transform="matrix(0.5819 0 0 0.6014 182.66 3077.10)" font-family="'Liberation Sans', sans-serif" font-weight="bold" font-size="100" fill="#262626">25</text>
<text transform="matrix(0.5874 0 0 0.5986 182.64 3283.10)" font-family="'Liberation Sans', sans-serif" font-weight="bold" font-size="100" fill="#262626">20</text>
<text transform="matrix(0.5706 0 0 0.6029 183.59 3485.00)" font-family="'Liberation Sans', sans-serif" font-weight="bold" font-size="100" fill="#262626" clip-path="url(#k1)">15</text>
<text transform="matrix(0.5711 0 0 0.5944 183.59 3691.51)" font-family="'Liberation Sans', sans-serif" font-weight="bold" font-size="100" fill="#262626" clip-path="url(#k1)">10</text>
<text transform="matrix(0.5720 0 0 0.6071 214.08 3893.69)" font-family="'Liberation Sans', sans-serif" font-weight="bold" font-size="100" fill="#262626">5</text>
<text transform="matrix(0.5720 0 0 0.6014 213.58 4099.30)" font-family="'Liberation Sans', sans-serif" font-weight="bold" font-size="100" fill="#262626">0</text>
<text transform="matrix(0.5720 0 0 0.5901 249.33 4155.61)" font-family="'Liberation Sans', sans-serif" font-weight="bold" font-size="100" fill="#262626">0</text>
<text transform="matrix(0.5623 0 0 0.5930 540.25 4155.61)" font-family="'Liberation Sans', sans-serif" font-weight="bold" font-size="100" fill="#262626" clip-path="url(#k1)">1000</text>
<text transform="matrix(0.5740 0 0 0.5930 866.29 4155.61)" font-family="'Liberation Sans', sans-serif" font-weight="bold" font-size="100" fill="#262626">2000</text>
<text transform="matrix(0.5653 0 0 0.5930 1196.69 4155.61)" font-family="'Liberation Sans', sans-serif" font-weight="bold" font-size="100" fill="#262626">3000</text>
<text transform="matrix(0.5724 0 0 0.5958 1524.24 4155.50)" font-family="'Liberation Sans', sans-serif" font-weight="bold" font-size="100" fill="#262626">4000</text>
<text transform="matrix(0.5720 0 0 0.5887 394.41 3239.21)" font-family="'Liberation Sans', sans-serif" font-weight="bold" font-size="100" fill="#262626">3</text>
<text transform="matrix(0.5720 0 0 0.5929 394.32 3400.00)" font-family="'Liberation Sans', sans-serif" font-weight="bold" font-size="100" fill="#262626">2</text>
<text transform="matrix(0.5720 0 0 0.6014 396.87 3564.40)" font-family="'Liberation Sans', sans-serif" font-weight="bold" font-size="100" fill="#262626" clip-path="url(#k1)">1</text>
<text transform="matrix(0.5720 0 0 0.5930 394.48 3726.51)" font-family="'Liberation Sans', sans-serif" font-weight="bold" font-size="100" fill="#262626">0</text>
<text transform="matrix(0.5531 0 0 0.5944 528.74 3784.01)" font-family="'Liberation Sans', sans-serif" font-weight="bold" font-size="100" fill="#262626">500</text>
<text transform="matrix(0.5472 0 0 0.5944 833.94 3784.01)" font-family="'Liberation Sans', sans-serif" font-weight="bold" font-size="100" fill="#262626" clip-path="url(#k1)">1000</text>
<text transform="matrix(0.5623 0 0 0.5930 1149.75 3784.11)" font-family="'Liberation Sans', sans-serif" font-weight="bold" font-size="100" fill="#262626" clip-path="url(#k1)">1500</text>
<text transform="matrix(0.5656 0 0 0.5958 1464.42 3784.10)" font-family="'Liberation Sans', sans-serif" font-weight="bold" font-size="100" fill="#262626">2000</text>
<text transform="matrix(0.6348 0 0 0.6064 671.33 4242.77)" font-family="'Liberation Sans', sans-serif" font-weight="normal" font-size="100" fill="#262626">Charging time (s)</text>
<text transform="matrix(0 -0.6305 0.6096 0 123.20 3826.34)" font-family="'Liberation Sans', sans-serif" font-weight="normal" font-size="100" fill="#262626">Heating power (W)</text>
<text transform="matrix(0.8000 0 0 0.8622 818.30 4400.69)" font-family="'Liberation Serif', serif" font-weight="normal" font-size="100" fill="#000"><tspan x="0" y="0">(</tspan><tspan x="34.5" y="0.5" font-size="101.7" font-weight="bold">c</tspan><tspan x="80.4" y="-0.0" font-size="100.0">)</tspan></text>
</g>
</svg>
</body>
</html>
